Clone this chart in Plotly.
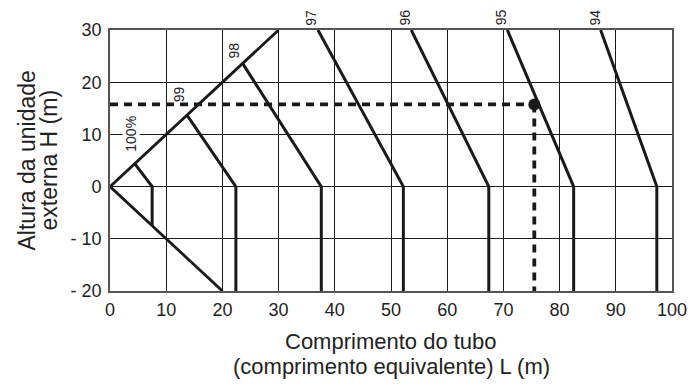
import plotly.graph_objects as go

# ---- data ----
curve_labels = ["100%", "99", "98", "97", "96", "95", "94"]
curve_L = [
    [4.4, 7.5, 7.5],
    [13.7, 22.4, 22.4],
    [23.6, 37.6, 37.6],
    [37.0, 52.2, 52.2],
    [53.6, 67.4, 67.4],
    [70.7, 82.5, 82.5],
    [87.3, 97.3, 97.3],
]
curve_H = [
    [4.4, 0, -7.5],
    [13.7, 0, -20],
    [23.6, 0, -20],
    [30, 0, -20],
    [30, 0, -20],
    [30, 0, -20],
    [30, 0, -20],
]
label_L = [3.8, 12.3, 22.0, 35.8, 52.5, 69.7, 86.3]
label_H = [10.2, 17.7, 26.0, 32.4, 32.4, 32.4, 32.4]

upper_L = [0, 30]
upper_H = [0, 30]
lower_L = [0, 20]
lower_H = [0, -20]

example_L = 75.5
example_H = 15.75

x_range = [0, 100]
y_range = [-20, 30]
x_ticks = [0, 10, 20, 30, 40, 50, 60, 70, 80, 90, 100]
y_ticks = [-20, -10, 0, 10, 20, 30]
y_ticktext = ["- 20", "- 10", "0", "10", "20", "30"]

FONT = "Arial, Liberation Sans, sans-serif"
INK = "#1a1a1a"
PAGE = 8  # default body margin of the html page

fig = go.Figure()

fig.add_trace(go.Scatter(x=upper_L, y=upper_H, mode="lines",
                         line=dict(color=INK, width=2.8), cliponaxis=False, hoverinfo="skip"))
fig.add_trace(go.Scatter(x=lower_L, y=lower_H, mode="lines",
                         line=dict(color=INK, width=2.8), cliponaxis=False, hoverinfo="skip"))
for xs, ys in zip(curve_L, curve_H):
    fig.add_trace(go.Scatter(x=xs, y=ys, mode="lines",
                             line=dict(color=INK, width=3), cliponaxis=False, hoverinfo="skip"))

# example dashed lines
fig.add_trace(go.Scatter(x=[0, example_L], y=[example_H, example_H], mode="lines",
                         line=dict(color=INK, width=3.8, dash="8px,6px"), hoverinfo="skip"))
fig.add_trace(go.Scatter(x=[example_L, example_L], y=[example_H, y_range[0]], mode="lines",
                         line=dict(color=INK, width=3.8, dash="8px,6px"), hoverinfo="skip"))
fig.add_trace(go.Scatter(x=[example_L], y=[example_H], mode="markers",
                         marker=dict(color=INK, size=12), cliponaxis=False, hoverinfo="skip"))

for t, lx, ly in zip(curve_labels, label_L, label_H):
    fig.add_annotation(x=lx, xref="x",
                       y=(ly - y_range[0]) / (y_range[1] - y_range[0]), yref="paper",
                       text=t, showarrow=False, textangle=-90,
                       font=dict(family=FONT, size=14, color="#222"),
                       bgcolor="white" if t == "100%" else "rgba(0,0,0,0)",
                       xanchor="center", yanchor="middle", borderpad=0)

L0, B0 = 110 - PAGE, 291 - PAGE  # plot-area left / bottom in figure pixels

# y title (two lines)
fig.add_annotation(xref="paper", yref="paper", x=0, y=0.5, xshift=(26 - PAGE) - L0,
                   text="Altura da unidade", showarrow=False, textangle=-90,
                   font=dict(family=FONT, size=23, color="#222"),
                   xanchor="center", yanchor="middle")
fig.add_annotation(xref="paper", yref="paper", x=0, y=0.5, xshift=(48 - PAGE) - L0,
                   text="externa H (m)", showarrow=False, textangle=-90,
                   font=dict(family=FONT, size=23, color="#222"),
                   xanchor="center", yanchor="middle")
# x title (two lines)
fig.add_annotation(xref="paper", yref="paper", x=0.5, y=0, yshift=B0 - (341.5 - PAGE),
                   text="Comprimento do tubo", showarrow=False,
                   font=dict(family=FONT, size=22, color="#222"),
                   xanchor="center", yanchor="middle")
fig.add_annotation(xref="paper", yref="paper", x=0.5, y=0, yshift=B0 - (366.5 - PAGE),
                   text="(comprimento equivalente) L (m)", showarrow=False,
                   font=dict(family=FONT, size=22, color="#222"),
                   xanchor="center", yanchor="middle")

fig.update_layout(
    width=699 - PAGE, height=385 - PAGE,
    margin=dict(l=110 - PAGE, r=21, t=30 - PAGE, b=94),
    paper_bgcolor="white", plot_bgcolor="white",
    showlegend=False,
    font=dict(family=FONT, size=18, color="#222"),
)
fig.update_xaxes(range=x_range, tickvals=x_ticks, showgrid=True, gridcolor=INK, gridwidth=1.2,
                 zeroline=False, showline=True, mirror=True, linecolor="#555", linewidth=1.8,
                 ticks="", tickfont=dict(family=FONT, size=18, color="#222"), ticklabelstandoff=1)
fig.update_yaxes(range=y_range, tickvals=y_ticks, ticktext=y_ticktext, showgrid=True,
                 gridcolor=INK, gridwidth=1.2, zeroline=False, showline=True, mirror=True,
                 linecolor="#555", linewidth=1.8, ticks="",
                 tickfont=dict(family=FONT, size=18, color="#222"), ticklabelstandoff=3)

fig.write_html("out.html")
